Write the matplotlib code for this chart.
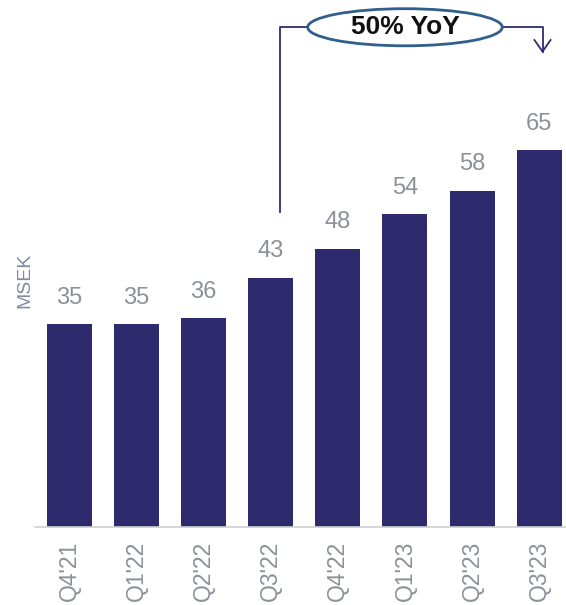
import matplotlib
matplotlib.use("Agg")
import matplotlib.pyplot as plt
from matplotlib.patches import Ellipse

plt.rcParams['font.family'] = ['Liberation Sans', 'DejaVu Sans']

categories = ["Q4'21", "Q1'22", "Q2'22", "Q3'22", "Q4'22", "Q1'23", "Q2'23", "Q3'23"]
values = [35, 35, 36, 43, 48, 54, 58, 65]
annotation_text = "50% YoY"
y_label = "MSEK"

bar_color = "#2d2a6e"
text_gray = "#8c9098"

fig = plt.figure(figsize=(5.66, 6.05), dpi=100)
ax = fig.add_axes([35/566, 78/605, 531/566, 527/605])
x = list(range(len(categories)))
ax.bar(x, values, width=0.67, color=bar_color)
ax.set_xlim(-0.514, 7.40)
ax.set_ylim(0, 90.9)

for xi, v in zip(x, values):
    ax.annotate(str(v), (xi, v), xytext=(0, 11), textcoords="offset points",
                ha="center", va="bottom", fontsize=17, color=text_gray)

ax.set_xticks(x)
ax.set_xticklabels(categories, rotation=90, fontsize=16.5, color=text_gray)
ax.tick_params(axis="x", length=0, pad=10)
ax.set_yticks([])
for s in ["top", "right", "left"]:
    ax.spines[s].set_visible(False)
ax.spines["bottom"].set_color("#d0d0d0")
ax.spines["bottom"].set_linewidth(1.2)

fig.text(25/566, 1 - 280/605, y_label, rotation=90, ha="center", va="center",
         fontsize=14, color="#7d8ba3")

# YoY annotation
line_c = "#2e2c74"
ax.plot([3.14, 3.14, 3.58], [54.3, 86.2, 86.2], color=line_c, lw=1.3, clip_on=False)
ax.plot([6.42, 7.05, 7.05], [86.2, 86.2, 82.0], color=line_c, lw=1.3, clip_on=False)
ax.plot([6.93, 7.05, 7.17], [84.0, 82.0, 84.0], color=line_c, lw=1.3, clip_on=False)
ell = Ellipse((5.0, 86.2), 2.9, 6.4, facecolor="white", edgecolor="#2f5f8a", lw=2.0,
              clip_on=False, zorder=3)
ax.add_patch(ell)
ax.text(5.0, 86.2, annotation_text, ha="center", va="center", fontsize=19,
        fontweight="bold", color="#111111", zorder=4)

fig.savefig("out.png", dpi=100)
